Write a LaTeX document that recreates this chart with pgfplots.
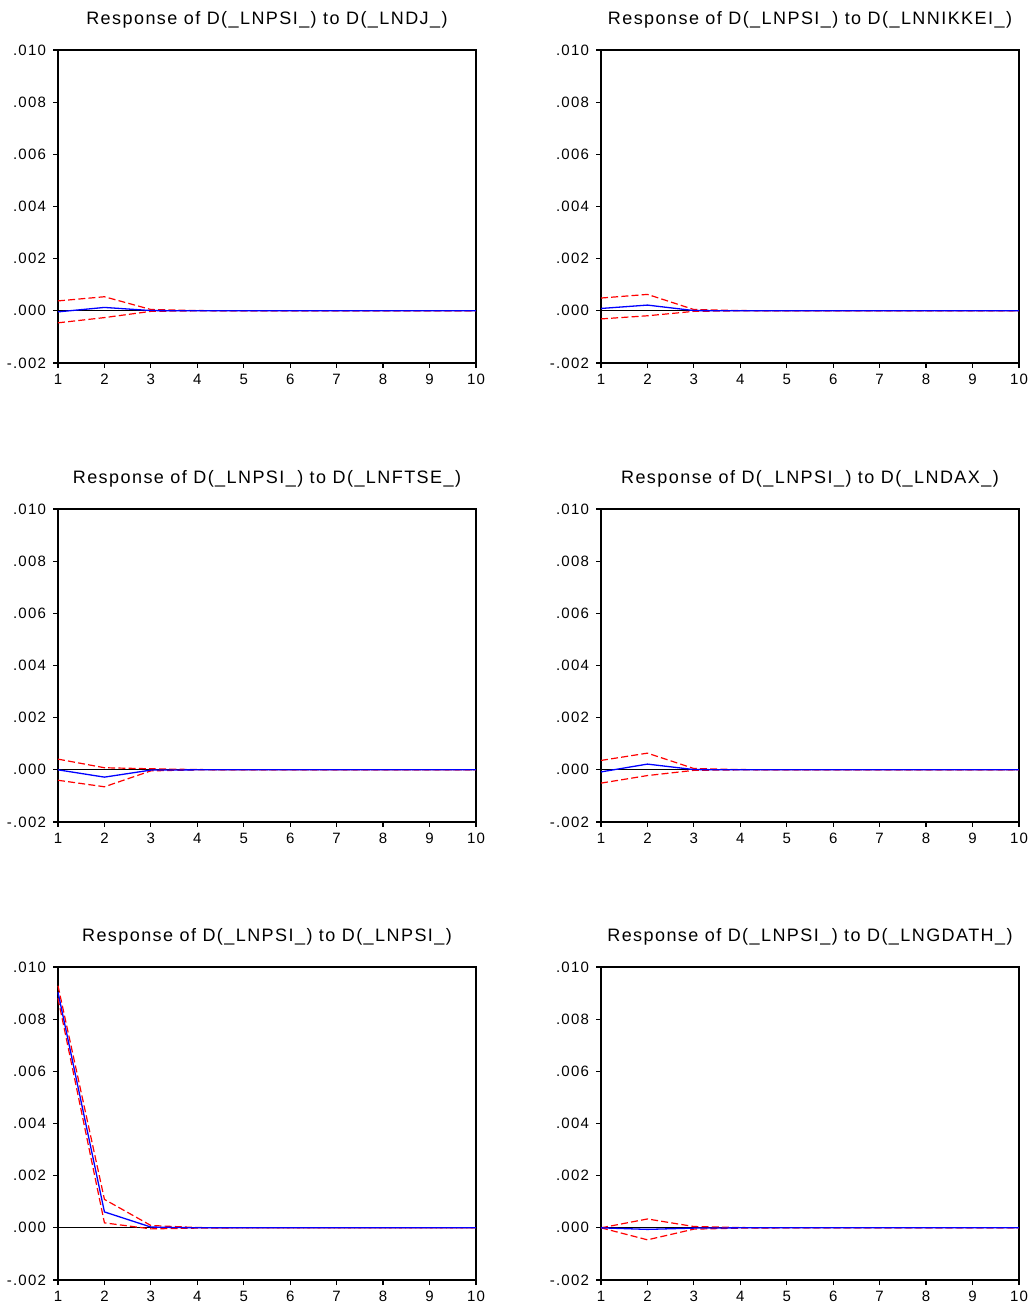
\documentclass[border=0pt]{standalone}
\usepackage{fontspec}
\setmainfont[LetterSpace=8]{Liberation Sans}
\usepackage{pgfplots}
\pgfplotsset{compat=1.18}
\definecolor{eblue}{RGB}{0,0,255}
\definecolor{ered}{RGB}{255,0,0}
\pgfplotsset{
  irf/.style={
    scale only axis, width=209pt, height=156.5pt,
    xmin=1, xmax=10, ymin=-0.002, ymax=0.010,
    xtick={1,2,3,4,5,6,7,8,9,10},
    xticklabels={1,2,3,4,5,6,7,8,9,10},
    ytick={-0.002,0,0.002,0.004,0.006,0.008,0.010},
    yticklabels={-.002,.000,.002,.004,.006,.008,.010},
    scaled y ticks=false, scaled x ticks=false,
    tick pos=left, tick align=outside, major tick length=2.5pt,
    tick style={black, line width=0.6pt},
    axis line style={black, line width=0.7pt},
    tick label style={font=\fontsize{7.5}{8}\selectfont},
    xticklabel style={yshift=0.5pt},
    title style={font=\fontsize{9}{10}\selectfont, yshift=1.5pt},
    anchor=south west, clip=false,
  },
  bl/.style={eblue, line width=0.65pt},
  rd/.style={ered, line width=0.6pt, dash pattern=on 3.5pt off 1.6pt},
}
\newcommand\panel[5]{%
\begin{axis}[irf, at={(#1)}, title={#2}]
  \addplot[black, line width=0.45pt] coordinates {(1,0) (10,0)};
  \addplot[rd] coordinates {#4};
  \addplot[rd] coordinates {#5};
  \addplot[bl] coordinates {#3};
\end{axis}}
\begin{document}
\begin{tikzpicture}
\useasboundingbox (0,0) rectangle (516pt,654pt);
% Row 1
\panel{29pt,472.5pt}{Response of D(\_LNPSI\_) to D(\_LNDJ\_)}
 {(1,-0.00004)(2,0.00013)(3,0.00001)(4,0)(5,0)(6,0)(7,0)(8,0)(9,0)(10,0)}
 {(1,0.00038)(2,0.00054)(3,0.00005)(4,0.00001)(5,0)(6,0)(7,0)(8,0)(9,0)(10,0)}
 {(1,-0.00046)(2,-0.00026)(3,-0.00002)(4,0)(5,0)(6,0)(7,0)(8,0)(9,0)(10,0)}
\panel{300.5pt,472.5pt}{Response of D(\_LNPSI\_) to D(\_LNNIKKEI\_)}
 {(1,0.00009)(2,0.00022)(3,0.00001)(4,0)(5,0)(6,0)(7,0)(8,0)(9,0)(10,0)}
 {(1,0.00049)(2,0.00063)(3,0.00005)(4,0.00001)(5,0)(6,0)(7,0)(8,0)(9,0)(10,0)}
 {(1,-0.00031)(2,-0.00019)(3,-0.00002)(4,0)(5,0)(6,0)(7,0)(8,0)(9,0)(10,0)}
% Row 2
\panel{29pt,243pt}{Response of D(\_LNPSI\_) to D(\_LNFTSE\_)}
 {(1,0)(2,-0.00028)(3,-0.00001)(4,0)(5,0)(6,0)(7,0)(8,0)(9,0)(10,0)}
 {(1,0.00041)(2,0.00008)(3,0.00004)(4,0.00001)(5,0)(6,0)(7,0)(8,0)(9,0)(10,0)}
 {(1,-0.00040)(2,-0.00065)(3,-0.00004)(4,0)(5,0)(6,0)(7,0)(8,0)(9,0)(10,0)}
\panel{300.5pt,243pt}{Response of D(\_LNPSI\_) to D(\_LNDAX\_)}
 {(1,-0.00008)(2,0.00022)(3,0.00001)(4,0)(5,0)(6,0)(7,0)(8,0)(9,0)(10,0)}
 {(1,0.00036)(2,0.00064)(3,0.00005)(4,0.00001)(5,0)(6,0)(7,0)(8,0)(9,0)(10,0)}
 {(1,-0.00051)(2,-0.00022)(3,-0.00002)(4,0)(5,0)(6,0)(7,0)(8,0)(9,0)(10,0)}
% Row 3
\panel{29pt,14pt}{Response of D(\_LNPSI\_) to D(\_LNPSI\_)}
 {(1,0.00903)(2,0.00061)(3,0.00003)(4,0)(5,0)(6,0)(7,0)(8,0)(9,0)(10,0)}
 {(1,0.00928)(2,0.00109)(3,0.00009)(4,0.00001)(5,0)(6,0)(7,0)(8,0)(9,0)(10,0)}
 {(1,0.00880)(2,0.00019)(3,-0.00004)(4,-0.00001)(5,0)(6,0)(7,0)(8,0)(9,0)(10,0)}
\panel{300.5pt,14pt}{Response of D(\_LNPSI\_) to D(\_LNGDATH\_)}
 {(1,0)(2,-0.00006)(3,-0.00001)(4,0)(5,0)(6,0)(7,0)(8,0)(9,0)(10,0)}
 {(1,0)(2,0.00034)(3,0.00005)(4,0.00001)(5,0)(6,0)(7,0)(8,0)(9,0)(10,0)}
 {(1,0)(2,-0.00046)(3,-0.00005)(4,-0.00001)(5,0)(6,0)(7,0)(8,0)(9,0)(10,0)}
\end{tikzpicture}
\end{document}
